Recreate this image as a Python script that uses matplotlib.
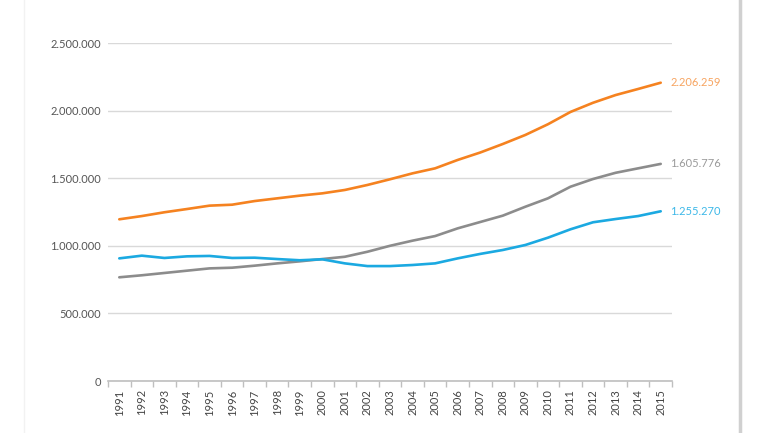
import matplotlib
matplotlib.use("Agg")
import matplotlib.pyplot as plt
from matplotlib.ticker import FuncFormatter, FixedLocator
from matplotlib.lines import Line2D

plt.rcParams['font.family'] = ['Lato', 'DejaVu Sans']

years = list(range(1991, 2016))

orange = [1196000, 1220000, 1248000, 1272000, 1297000, 1304000, 1331000, 1351000,
          1371000, 1388000, 1413000, 1450000, 1492000, 1536000, 1573000, 1635000,
          1690000, 1753000, 1820000, 1899000, 1990000, 2058000, 2115000, 2160000,
          2206259]
gray = [767000, 782000, 799000, 816000, 833000, 838000, 853000, 870000,
        885000, 902000, 919000, 956000, 1000000, 1038000, 1072000, 1129000,
        1176000, 1223000, 1289000, 1351000, 1437000, 1494000, 1540000, 1573000,
        1605776]
blue = [907000, 927000, 910000, 922000, 925000, 910000, 912000, 902000,
        893000, 900000, 870000, 850000, 850000, 858000, 870000, 907000,
        940000, 969000, 1006000, 1060000, 1122000, 1174000, 1198000, 1220000,
        1255270]

series = [
    (orange, '#F58220', '#F7A460'),
    (gray, '#8C8C8C', '#9A9A9A'),
    (blue, '#1BA9E1', '#3DB8E8'),
]

fig = plt.figure(figsize=(7.7, 4.33), dpi=100)
ax = fig.add_axes([108 / 770, 1 - 381 / 433, (672 - 108) / 770, (381 - 43) / 433])

x = list(range(len(years)))
for vals, col, lab_col in series:
    ax.plot(x, vals, color=col, lw=1.9, solid_capstyle='round', zorder=3)
    ax.annotate(f"{vals[-1]:,}".replace(',', '.'), xy=(x[-1], vals[-1]),
                xytext=(7, 0), textcoords='offset points', va='center', ha='left',
                fontsize=8, color=lab_col, annotation_clip=False)

ax.set_xlim(-0.5, len(years) - 0.5)
ax.set_ylim(0, 2500000)
ax.set_yticks([0, 500000, 1000000, 1500000, 2000000, 2500000])
ax.yaxis.set_major_formatter(FuncFormatter(lambda v, p: f"{int(v):,}".replace(',', '.')))
ax.grid(axis='y', color='#D9D9D9', lw=1)
ax.set_axisbelow(True)

ax.set_xticks(x)
ax.set_xticklabels([str(y) for y in years], rotation=90)
ax.xaxis.set_minor_locator(FixedLocator([i - 0.5 for i in range(len(years) + 1)]))
ax.tick_params(axis='x', which='major', length=0, pad=6, labelsize=8, labelcolor='#444444')
ax.tick_params(axis='x', which='minor', length=4, color='#BFBFBF', width=1)
ax.tick_params(axis='y', length=0, pad=5, labelsize=8, labelcolor='#555555')

for s in ['top', 'right', 'left']:
    ax.spines[s].set_visible(False)
ax.spines['bottom'].set_color('#BFBFBF')
ax.spines['bottom'].set_linewidth(1.2)

# page borders
fig.add_artist(Line2D([24 / 770, 24 / 770], [0, 1], color='#F2F2F2', lw=1))
fig.add_artist(Line2D([740 / 770, 740 / 770], [0, 1], color='#D0D0D0', lw=2.5))

fig.savefig('out.png', dpi=100)
